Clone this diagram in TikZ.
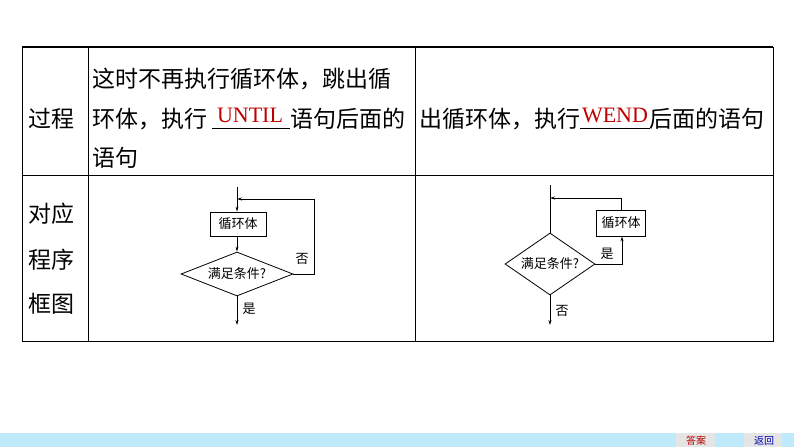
\documentclass[tikz,border=0pt]{standalone}
\usepackage{fontspec}
\newfontfamily\cjk{Noto Sans CJK SC}
\setmainfont{Liberation Serif}
\usetikzlibrary{shapes.geometric,arrows.meta}
\begin{document}
\begin{tikzpicture}[x=1pt,y=-1pt,
  cell/.style={font=\cjk\fontsize{23}{26}\selectfont,anchor=west,inner sep=0},
  fc/.style={font=\cjk\fontsize{13}{15}\selectfont,inner sep=0},
  fl/.style={line width=0.8pt},
  ar/.style={fl,-{Stealth[length=5pt,width=3pt]}}]
\useasboundingbox (0,0) rectangle (794,447);
% table
\draw[line width=1.2pt] (22,47) -- (773,47);
\draw[line width=0.8pt] (22,47) rectangle (773,341);
\draw[line width=0.8pt] (22,175) -- (773,175);
\draw[line width=0.8pt] (88,47) -- (88,341) (415,47) -- (415,341);
\node[cell] (t1) at (28,119) {过程};
\node[cell] (l1) at (92,79) {这时不再执行循环体，跳出循};
\node[cell] (l2a) at (92,119) {环体，执行};
\node[cell] (l2b) at (290,119) {语句后面的};
\node[cell] (l3) at (92,158) {语句};
\draw[fl] (212,128) -- (290,128);
\node[font=\fontsize{22}{24}\selectfont,text=red!75!black,inner sep=0] (u) at (250,115) {UNTIL};
\node[cell] (r1a) at (419,119) {出循环体，执行};
\node[cell] (r1b) at (649,119) {后面的语句};
\draw[fl] (580,128) -- (650,128);
\node[font=\fontsize{22}{24}\selectfont,text=red!75!black,inner sep=0] (w) at (615,115) {WEND};
\node[cell] (d1) at (28,214) {对应};
\node[cell] (d2) at (28,260) {程序};
\node[cell] (d3) at (28,304) {框图};
% left flowchart
\node[draw,fl,fc,minimum width=56pt,minimum height=24pt] (lb) at (238,224) {循环体};
\node[draw,fl,fc,diamond,aspect=2.55,minimum width=112pt,minimum height=44pt,inner sep=0] (ld) at (237,274) {满足条件?};
\coordinate (ltop) at (237,187);
\coordinate (lj) at (237,199);
\coordinate (lend) at (237,325);
\draw[ar] (ltop) -- (lb.north -| ltop);
\draw[ar] (lb.south -| ltop) -- (ld.north);
\draw[ar] (ld.south) -- (lend);
\draw[ar] (ld.east) -- (314,274) -- (314,199) -- (lj);
\node[fc] (lno) at (302,259) {否};
\node[fc] (lyes) at (249,309) {是};
% right flowchart
\node[draw,fl,fc,diamond,aspect=1.45,minimum width=90pt,minimum height=62pt,inner sep=0] (rd) at (550,264) {满足条件?};
\node[draw,fl,fc,minimum width=49pt,minimum height=26pt] (rb) at (621,223) {循环体};
\coordinate (rtop) at (550,185);
\coordinate (rj) at (550,198);
\coordinate (rend) at (550,325);
\draw[fl] (rtop) -- (rd.north);
\draw[ar] (rd.east) -- (622,264) -- (rb.south -| 622,0);
\draw[ar] (rb.north) -- (621,198) -- (rj);
\draw[ar] (rd.south) -- (rend);
\node[fc] (ryes) at (607,254) {是};
\node[fc] (rno) at (562,311) {否};
% bottom bar
\fill[cyan!25!white] (0,433) rectangle (794,447);
\fill[gray!20] (676,433) rectangle (715,447);
\fill[gray!20] (744,433) rectangle (782,447);
\node[font=\cjk\fontsize{10}{11}\selectfont,text=red!70!black,inner sep=0] (ans) at (696,441) {答案};
\node[font=\cjk\fontsize{10}{11}\selectfont,text=blue!70!black,inner sep=0] (ret) at (764,441) {返回};
\end{tikzpicture}
\end{document}
